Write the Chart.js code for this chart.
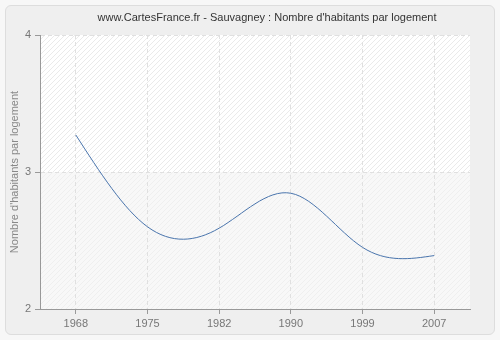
<!DOCTYPE html>
<html>
<head>
<meta charset="utf-8">
<script src="https://cdn.jsdelivr.net/npm/chart.js@4/dist/chart.umd.min.js"></script>
<style>
  html, body { margin: 0; padding: 0; background: #f7f7f7; }
  #card {
    position: absolute; left: 5px; top: 5px; width: 488px; height: 328px;
    background: #efefef; border: 1px solid #dddddd; border-radius: 6px;
  }
  #wrap { position: absolute; left: 0; top: 0; width: 500px; height: 340px; }
</style>
</head>
<body>
<div id="card"></div>
<div id="wrap"><canvas id="c" width="500" height="340"></canvas></div>
<script>
const titleText = "www.CartesFrance.fr - Sauvagney : Nombre d'habitants par logement";
const yAxisTitle = "Nombre d'habitants par logement";
const years = ["1968", "1975", "1982", "1990", "1999", "2007"];
const habitantsParLogement = [3.27, 2.60, 2.59, 2.845, 2.45, 2.39];
const yTicks = [2, 3, 4];

const FONT = "'Liberation Sans', Arial, sans-serif";

function hatch(bg, line) {
  const p = document.createElement('canvas');
  p.width = 5; p.height = 5;
  const g = p.getContext('2d');
  g.fillStyle = bg; g.fillRect(0, 0, 5, 5);
  g.strokeStyle = line; g.lineWidth = 1;
  g.beginPath();
  g.moveTo(0, 5); g.lineTo(5, 0);
  g.moveTo(-2.5, 2.5); g.lineTo(2.5, -2.5);
  g.moveTo(2.5, 7.5); g.lineTo(7.5, 2.5);
  g.stroke();
  return p;
}

// second derivatives of a natural cubic spline over evenly spaced knots
function naturalSplineM(y) {
  const n = y.length;
  const M = new Array(n).fill(0);
  if (n < 3) return M;
  const a = [], b = [], c = [], d = [];
  for (let i = 1; i < n - 1; i++) {
    a.push(1); b.push(4); c.push(1);
    d.push(6 * (y[i + 1] - 2 * y[i] + y[i - 1]));
  }
  const m = d.length;
  for (let i = 1; i < m; i++) {
    const w = a[i] / b[i - 1];
    b[i] -= w * c[i - 1];
    d[i] -= w * d[i - 1];
  }
  const sol = new Array(m);
  sol[m - 1] = d[m - 1] / b[m - 1];
  for (let i = m - 2; i >= 0; i--) sol[i] = (d[i] - c[i] * sol[i + 1]) / b[i];
  for (let i = 0; i < m; i++) M[i + 1] = sol[i];
  return M;
}

// give the line's points the bezier handles of a natural cubic spline
const naturalSpline = {
  id: 'naturalSpline',
  afterDatasetsUpdate(chart) {
    const meta = chart.getDatasetMeta(0);
    const pts = meta.data;
    const ys = chart.data.datasets[0].data;
    const y = chart.scales.y;
    const M = naturalSplineM(ys);
    const n = ys.length;
    for (let i = 0; i < n; i++) {
      const p = pts[i];
      p.cp1x = p.x; p.cp1y = p.y; p.cp2x = p.x; p.cp2y = p.y;
    }
    for (let i = 0; i < n - 1; i++) {
      const p0 = pts[i], p1 = pts[i + 1];
      const dy = ys[i + 1] - ys[i];
      const d0 = dy - (2 * M[i] + M[i + 1]) / 6;
      const d1 = dy + (M[i] + 2 * M[i + 1]) / 6;
      const dx = p1.x - p0.x;
      p0.cp2x = p0.x + dx / 3;
      p0.cp2y = y.getPixelForValue(ys[i] + d0 / 3);
      p1.cp1x = p1.x - dx / 3;
      p1.cp1y = y.getPixelForValue(ys[i + 1] - d1 / 3);
    }
    meta.dataset._pointsUpdated = true;
  }
};

// plot background: hatched band above 3, softer band below
const plotBackground = {
  id: 'plotBackground',
  beforeDraw(chart) {
    const { ctx, chartArea: a, scales: { y } } = chart;
    const mid = y.getPixelForValue(3);
    ctx.save();
    ctx.fillStyle = ctx.createPattern(hatch('#ffffff', '#eaeaea'), 'repeat');
    ctx.fillRect(a.left, a.top, a.right - a.left, mid - a.top);
    ctx.fillStyle = ctx.createPattern(hatch('#f8f8f8', '#efefef'), 'repeat');
    ctx.fillRect(a.left, mid, a.right - a.left, a.bottom - mid);
    ctx.restore();
  }
};

// heading above the plot
const heading = {
  id: 'heading',
  afterDraw(chart) {
    const ctx = chart.ctx;
    ctx.save();
    ctx.font = "11px " + FONT;
    ctx.fillStyle = '#333333';
    ctx.textAlign = 'center';
    ctx.textBaseline = 'middle';
    ctx.fillText(titleText, 267, 18);
    ctx.restore();
  }
};

new Chart(document.getElementById('c'), {
  type: 'line',
  data: {
    labels: years,
    datasets: [{
      data: habitantsParLogement,
      borderColor: '#4a75ad',
      borderWidth: 1,
      pointRadius: 0,
      tension: 0.01,
      fill: false
    }]
  },
  options: {
    responsive: false,
    animation: false,
    layout: { padding: { left: 0, top: 35, right: 30, bottom: 0 } },
    plugins: { legend: { display: false }, tooltip: { enabled: false }, title: { display: false } },
    scales: {
      x: {
        type: 'category',
        offset: true,
        grid: {
          display: true, offset: false, color: '#e0e0e0',
          drawTicks: true, tickLength: 5, tickColor: '#999999'
        },
        border: { display: true, color: '#999999', width: 1, dash: [4, 3] },
        ticks: { color: '#777777', font: { family: FONT, size: 11 }, padding: 3, maxRotation: 0 },
        afterFit(s) { s.height = 31; }
      },
      y: {
        min: 2, max: 4,
        afterBuildTicks(s) { s.ticks = yTicks.map(v => ({ value: v })); },
        grid: {
          color: '#e0e0e0',
          drawTicks: true, tickLength: 5, tickColor: '#999999'
        },
        border: { display: true, color: '#999999', width: 1, dash: [4, 3] },
        ticks: { color: '#777777', font: { family: FONT, size: 11 }, padding: 4 },
        title: {
          display: true, text: yAxisTitle, color: '#888888',
          font: { family: FONT, size: 11 }, padding: { top: 8, bottom: 0 }
        },
        afterFit(s) { s.width = 40; }
      }
    }
  },
  plugins: [plotBackground, naturalSpline, heading]
});
</script>
</body>
</html>
